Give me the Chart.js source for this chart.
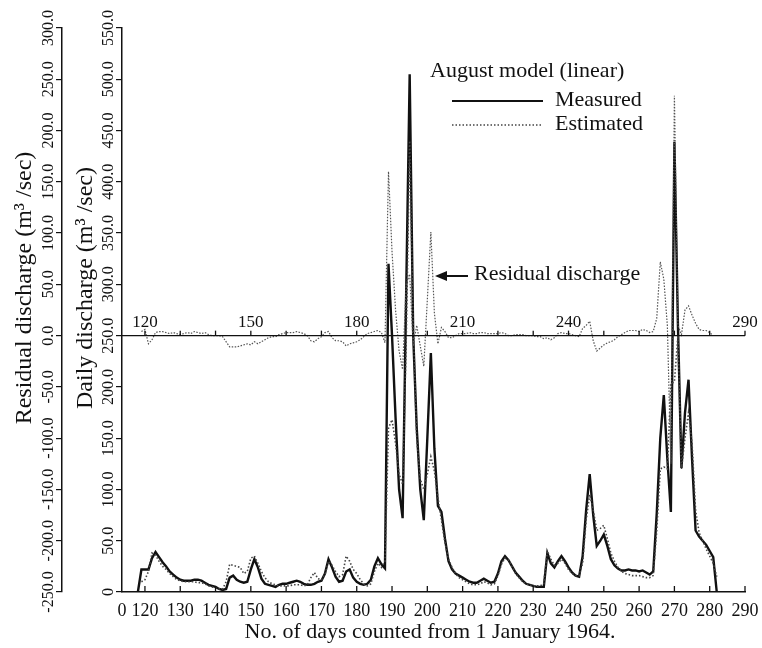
<!DOCTYPE html>
<html>
<head>
<meta charset="utf-8">
<title>August model (linear)</title>
<script src="https://cdn.jsdelivr.net/npm/chart.js@4.4.1/dist/chart.umd.min.js"></script>
<style>
  html, body { margin: 0; padding: 0; background: #fff; }
</style>
</head>
<body>
<canvas id="grafico" width="762" height="648"></canvas>
<script>
// Days counted from 1 January 1964, one value per day starting at firstDay
const firstDay = 118;

// Measured daily discharge (m3/sec), days 118..282
const measured = [
  0, 22, 22, 22, 33, 39, 34, 29, 25, 20,        // 118-127
  17, 14, 12, 11, 11, 11, 12, 12, 11, 9,        // 128-137
  7, 6, 5, 3, 2, 3, 14, 16, 12, 10,             // 138-147
  9, 10, 22, 32, 24, 13, 8, 7, 6, 5,            // 148-157
  7, 8, 8, 9, 10, 11, 10, 8, 7, 7,              // 158-167
  8, 10, 11, 18, 32, 24, 15, 10, 11, 20,        // 168-177
  22, 14, 10, 8, 7, 8, 12, 25, 33, 27,          // 178-187
  23, 320, 250, 170, 100, 72, 290, 505, 250, 160, // 188-197
  100, 70, 150, 233, 140, 84, 78, 52, 30, 22,   // 198-207
  18, 16, 14, 12, 10, 9, 9, 11, 13, 11,         // 208-217
  9, 10, 18, 30, 35, 31, 25, 19, 15, 11,        // 218-227
  8, 7, 6, 5, 5, 5, 38, 28, 24, 30,             // 228-237
  35, 30, 24, 19, 16, 15, 35, 80, 115, 75,      // 238-247
  45, 50, 56, 45, 32, 26, 23, 21, 21, 22,       // 248-257
  21, 21, 20, 21, 19, 17, 20, 77, 150, 192,     // 258-267
  130, 78, 439, 260, 121, 175, 207, 130, 60, 54, // 268-277
  50, 46, 40, 34, 0                             // 278-282
];

// Estimated daily discharge (m3/sec), August model (linear)
const estimated = [
  null, 10, 12, 20, 38, 36, 30, 25, 22, 18,     // 118-127
  15, 12, 11, 10, 10, 10, 10, 9, 9, 8,          // 128-137
  6, 5, 4, 3, 3, 10, 27, 26, 25, 24,            // 138-147
  18, 20, 33, 35, 28, 20, 14, 10, 8, 7,         // 148-157
  6, 6, 6, 6, 7, 7, 7, 6, 7, 14,                // 158-167
  19, 13, 12, 17, 30, 26, 20, 15, 17, 35,       // 168-177
  30, 22, 18, 12, 8, 6, 8, 20, 28, 24,          // 178-187
  30, 160, 168, 145, 115, 105, 240, 440, 260, 150, // 188-197
  110, 100, 115, 132, 118, 92, 70, 48, 32, 24,  // 198-207
  18, 14, 12, 10, 8, 7, 7, 8, 10, 9,            // 208-217
  7, 8, 16, 27, 33, 31, 25, 18, 14, 10,         // 218-227
  8, 7, 6, 6, 6, 8, 40, 32, 26, 28,             // 228-237
  32, 28, 22, 18, 16, 16, 28, 70, 95, 80,       // 238-247
  60, 62, 65, 52, 38, 30, 24, 20, 18, 17,       // 248-257
  16, 16, 16, 15, 14, 14, 16, 60, 120, 122,     // 258-267
  120, 203, 205, 250, 120, 150, 175, 145, 80, 58, // 268-277
  50, 42, 35, 28, 15                            // 278-282
];

// Residual discharge (m3/sec), measured minus estimated
const residual = [
  null, 4, 6, -8, -4, 3, 4, 4, 3, 2,            // 118-127
  3, 2, 1, 2, 3, 2, 4, 3, 2, 3,                 // 128-137
  1, 0, 0, 0, -1, -6, -11, -11, -11, -10,       // 138-147
  -9, -8, -9, -6, -8, -6, -4, -2, -1, -1,       // 148-157
  1, 2, 3, 3, 3, 4, 3, 2, 0, -5,                // 158-167
  -6, -3, -1, 3, 4, -2, -5, -5, -6, -10,        // 168-177
  -8, -7, -6, -4, -1, 2, 3, 4, 5, 3,            // 178-187
  -7, 160, 82, 25, -15, -33, 50, 60, -10, 10,   // 188-197
  -10, -30, 35, 101, 22, -8, 8, 4, -2, -2,      // 198-207
  0, 2, 2, 2, 3, 2, 2, 3, 3, 2,                 // 208-217
  2, 2, 2, 3, 2, 0, 0, 1, 1, 1,                 // 218-227
  0, 0, 0, -1, -1, -3, -2, -4, -2, 2,           // 228-237
  3, 2, 2, 1, 0, -1, 7, 10, 14, -5,             // 238-247
  -15, -12, -9, -7, -6, -4, -1, 1, 3, 5,        // 248-257
  5, 5, 4, 6, 5, 3, 4, 17, 72, 55,              // 258-267
  10, -125, 234, 10, 1, 25, 29, 20, 12, 6,      // 268-277
  5, 5, 3, 0, null                              // 278-282
];

// Tick marks of the day axes and the labels on the residual zero line
const dayTicks = [120, 130, 140, 150, 160, 170, 180, 190, 200, 210, 220, 230, 240, 250, 260, 270, 280, 290];
const residualDayLabels = [120, 150, 180, 210, 240, 290];

const X_MIN = 113.5;
const SERIF = "'Liberation Serif', 'DejaVu Serif', serif";

const days = measured.map((v, i) => firstDay + i);
const pontos = serie => serie.map((v, i) => ({ x: days[i], y: v }));

// Draws the rotated tick labels, axis titles, legend and the residual line
const extras = {
  id: 'extras',
  afterDraw(chart) {
    const { ctx, chartArea } = chart;
    const x = chart.scales.x, y = chart.scales.y, y2 = chart.scales.y2;
    ctx.save();
    ctx.strokeStyle = '#111';
    ctx.fillStyle = '#111';

    // inward tick marks on the bottom axis
    ctx.lineWidth = 1.3;
    dayTicks.forEach(d => {
      const px = x.getPixelForValue(d);
      ctx.beginPath();
      ctx.moveTo(px, chartArea.bottom);
      ctx.lineTo(px, chartArea.bottom - 6);
      ctx.stroke();
    });

    // residual zero line with its own small day axis
    const y0 = y2.getPixelForValue(0);
    ctx.beginPath();
    ctx.moveTo(chartArea.left, y0);
    ctx.lineTo(x.getPixelForValue(290), y0);
    ctx.stroke();
    dayTicks.forEach(d => {
      const px = x.getPixelForValue(d);
      ctx.beginPath();
      ctx.moveTo(px, y0);
      ctx.lineTo(px, y0 - 5);
      ctx.stroke();
    });
    ctx.font = '17px ' + SERIF;
    ctx.textAlign = 'center';
    ctx.textBaseline = 'alphabetic';
    residualDayLabels.forEach(d => ctx.fillText(String(d), x.getPixelForValue(d), y0 - 9));

    // vertical tick labels, read from bottom to top
    const rotulos = (scale, fmt) => {
      ctx.font = '16px ' + SERIF;
      ctx.textAlign = 'center';
      ctx.textBaseline = 'middle';
      scale.ticks.forEach(t => {
        const py = scale.getPixelForValue(t.value);
        ctx.save();
        ctx.translate(scale.right - 13, py);
        ctx.rotate(-Math.PI / 2);
        ctx.fillText(fmt(t.value), 0, 0);
        ctx.restore();
      });
    };
    rotulos(y, v => v === 0 ? '0' : v.toFixed(1));
    rotulos(y2, v => v.toFixed(1));

    const tituloVertical = (text, cx, cy) => {
      ctx.save();
      ctx.translate(cx, cy);
      ctx.rotate(-Math.PI / 2);
      ctx.font = '24px ' + SERIF;
      ctx.textAlign = 'center';
      ctx.textBaseline = 'middle';
      ctx.fillText(text, 0, 0);
      ctx.restore();
    };
    tituloVertical('Residual discharge (m\u00b3 /sec)', y2.left + 17, 288);
    tituloVertical('Daily discharge (m\u00b3 /sec)', y.left + 24, 288);

    // bottom axis title
    ctx.font = '22px ' + SERIF;
    ctx.textAlign = 'center';
    ctx.textBaseline = 'middle';
    ctx.fillText('No. of days counted from 1 January 1964.', 430, 632);

    // legend
    ctx.textAlign = 'left';
    ctx.fillText('August model (linear)', 430, 71);
    ctx.fillText('Measured', 555, 100);
    ctx.fillText('Estimated', 555, 124);
    ctx.lineWidth = 2;
    ctx.beginPath();
    ctx.moveTo(452, 101);
    ctx.lineTo(543, 101);
    ctx.stroke();
    ctx.setLineDash([1.5, 2]);
    ctx.lineWidth = 1.6;
    ctx.strokeStyle = '#444';
    ctx.beginPath();
    ctx.moveTo(452, 125);
    ctx.lineTo(543, 125);
    ctx.stroke();
    ctx.setLineDash([]);

    // arrow pointing at the residual curve
    ctx.fillStyle = '#111';
    ctx.strokeStyle = '#111';
    ctx.fillText('Residual discharge', 474, 274);
    ctx.lineWidth = 2;
    ctx.beginPath();
    ctx.moveTo(468, 276);
    ctx.lineTo(444, 276);
    ctx.stroke();
    ctx.beginPath();
    ctx.moveTo(435, 276);
    ctx.lineTo(447, 271);
    ctx.lineTo(447, 281);
    ctx.closePath();
    ctx.fill();

    ctx.restore();
  }
};

const ctx = document.getElementById('grafico').getContext('2d');
const grafico = new Chart(ctx, {
  type: 'line',
  data: {
    datasets: [
      {
        label: 'Residual discharge',
        data: pontos(residual),
        yAxisID: 'y2',
        borderColor: '#555',
        borderWidth: 1.2,
        borderDash: [1.5, 1.5],
        pointRadius: 0,
        tension: 0
      },
      {
        label: 'Estimated',
        data: pontos(estimated),
        yAxisID: 'y',
        borderColor: '#444',
        borderWidth: 1.6,
        borderDash: [1.5, 2],
        pointRadius: 0,
        tension: 0
      },
      {
        label: 'Measured',
        data: pontos(measured),
        yAxisID: 'y',
        borderColor: '#111',
        borderWidth: 2.4,
        pointRadius: 0,
        tension: 0
      }
    ]
  },
  options: {
    responsive: false,
    animation: false,
    layout: { padding: { left: 8, right: 17, top: 28, bottom: 0 } },
    plugins: {
      legend: { display: false },
      tooltip: { enabled: false }
    },
    scales: {
      x: {
        type: 'linear',
        min: X_MIN,
        max: 290,
        grid: { display: false },
        border: { display: true, color: '#111', width: 1.5 },
        afterBuildTicks: scale => {
          scale.ticks = [X_MIN].concat(dayTicks).map(v => ({ value: v }));
        },
        afterFit: scale => { scale.height = 56; },
        ticks: {
          autoSkip: false,
          maxRotation: 0,
          padding: 0,
          color: '#111',
          font: { family: SERIF, size: 18 },
          callback: v => v === X_MIN ? '0' : String(v)
        }
      },
      y: {
        position: 'left',
        weight: 0,
        min: 0,
        max: 550,
        grid: { drawOnChartArea: false, drawTicks: true, tickLength: 6, color: '#111', lineWidth: 1.2 },
        border: { display: true, color: '#111', width: 1.5 },
        ticks: { stepSize: 50, display: false },
        afterFit: scale => { scale.width = 60; }
      },
      y2: {
        position: 'left',
        weight: 1,
        min: -250,
        max: 300,
        grid: { drawOnChartArea: false, drawTicks: true, tickLength: 6, color: '#111', lineWidth: 1.2 },
        border: { display: true, color: '#111', width: 1.5 },
        ticks: { stepSize: 50, display: false },
        afterFit: scale => { scale.width = 54; }
      }
    }
  },
  plugins: [extras]
});
</script>
</body>
</html>
